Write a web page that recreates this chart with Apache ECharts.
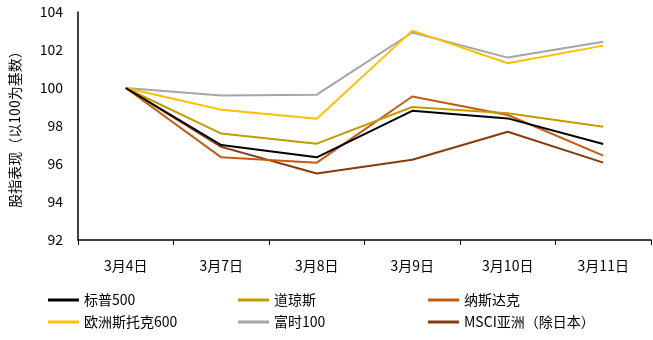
<!DOCTYPE html>
<html><head><meta charset="utf-8">
<script src="https://cdn.jsdelivr.net/npm/echarts@6/dist/echarts.min.js"></script>
<style>html,body{margin:0;padding:0;background:#fff}#c{width:653px;height:340px}</style>
</head><body><div id="c"></div>
<script>
const categories = ['3月4日','3月7日','3月8日','3月9日','3月10日','3月11日'];
const yTicks = [92, 94, 96, 98, 100, 102, 104];
const sp500   = [100, 97.0, 96.35, 98.8, 98.4, 97.05];
const dow     = [100, 97.6, 97.07, 99.0, 98.67, 97.96];
const nasdaq  = [100, 96.35, 96.07, 99.55, 98.58, 96.44];
const stoxx   = [100, 98.86, 98.38, 103.02, 101.3, 102.23];
const ftse    = [100, 99.6, 99.65, 102.92, 101.6, 102.44];
const msciAsia= [100, 96.9, 95.5, 96.22, 97.7, 96.07];
const names = ['标普500','道琼斯','纳斯达克','欧洲斯托克600','富时100','MSCI亚洲（除日本）'];
const colors = ['#000000','#C49A00','#C55A11','#FFC000','#A5A5A5','#843C0C'];
const values = [sp500, dow, nasdaq, stoxx, ftse, msciAsia];
const font = '"Noto Sans CJK SC", "Noto Sans", sans-serif';

const series = names.map((n, i) => ({
  name: n, type: 'line', data: values[i], symbol: 'none',
  lineStyle: { color: colors[i], width: 2 }, itemStyle: { color: colors[i] },
  z: 10 - i
}));

const legendBase = {
  orient: 'vertical', itemWidth: 31, itemHeight: 3, icon: 'rect', itemGap: 8,
  textStyle: { fontFamily: font, fontSize: 14, color: '#000' }
};
const chart = echarts.init(document.getElementById('c'), null, { renderer: 'canvas' });
chart.setOption({
  animation: false,
  grid: { left: 77, right: 2, top: 12, bottom: 100 },
  legend: [
    Object.assign({}, legendBase, { left: 43, top: 288, data: [names[0], names[3]] }),
    Object.assign({}, legendBase, { left: 233, top: 288, data: [names[1], names[4]] }),
    Object.assign({}, legendBase, { left: 423, top: 288, data: [names[2], names[5]] })
  ],
  xAxis: {
    type: 'category', data: categories, boundaryGap: true,
    axisLine: { lineStyle: { color: '#000', width: 1.5 } },
    axisTick: { show: true, length: 5, lineStyle: { color: '#000' } },
    axisLabel: { fontFamily: font, fontSize: 14, color: '#000', margin: 19 }
  },
  yAxis: {
    type: 'value', min: yTicks[0], max: yTicks[yTicks.length - 1], interval: 2,
    name: '股指表现（以100为基数）', nameLocation: 'middle', nameGap: 56,
    nameTextStyle: { fontFamily: font, fontSize: 14, color: '#000' },
    axisLine: { show: true, lineStyle: { color: '#000', width: 1.5 } },
    axisTick: { show: false },
    splitLine: { show: false },
    axisLabel: { fontFamily: font, fontSize: 14, color: '#000', margin: 15 }
  },
  series: series
});
</script></body></html>
